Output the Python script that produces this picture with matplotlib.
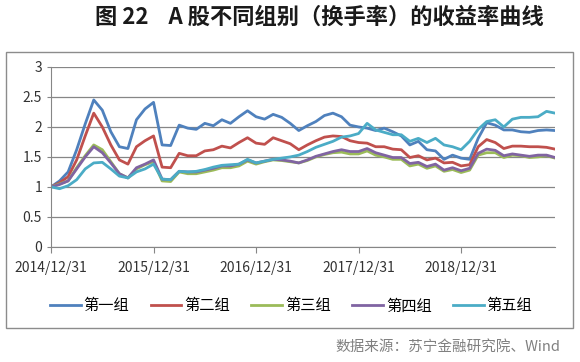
import numpy as np
import matplotlib
matplotlib.use('Agg')
import matplotlib.pyplot as plt
from matplotlib.patches import Rectangle

plt.rcParams['font.family'] = ['Noto Sans CJK SC', 'DejaVu Sans']

# 月度数据 2014/12 - 2019/11
tick_labels = ['2014/12/31', '2015/12/31', '2016/12/31', '2017/12/31', '2018/12/31']
tick_pos = [0, 12, 24, 36, 48]
names = ['第一组', '第二组', '第三组', '第四组', '第五组']

g1 = [1.00, 1.10, 1.25, 1.62, 2.05, 2.45, 2.28, 1.92, 1.67, 1.64,
      2.12, 2.30, 2.41, 1.70, 1.69, 2.03, 1.98, 1.96, 2.06, 2.02,
      2.12, 2.06, 2.17, 2.27, 2.17, 2.13, 2.21, 2.16, 2.06, 1.94,
      2.02, 2.09, 2.19, 2.23, 2.17, 2.03, 2.00, 1.98, 1.94, 1.98,
      1.92, 1.85, 1.70, 1.76, 1.62, 1.60, 1.46, 1.53, 1.48, 1.46,
      1.81, 2.07, 2.03, 1.95, 1.95, 1.92, 1.91, 1.94, 1.95, 1.94]
g2 = [1.00, 1.07, 1.17, 1.45, 1.85, 2.23, 2.00, 1.70, 1.45, 1.38,
      1.67, 1.77, 1.85, 1.33, 1.32, 1.56, 1.52, 1.52, 1.60, 1.62,
      1.68, 1.65, 1.74, 1.82, 1.73, 1.71, 1.82, 1.77, 1.72, 1.62,
      1.70, 1.77, 1.83, 1.85, 1.84, 1.77, 1.74, 1.73, 1.67, 1.67,
      1.63, 1.62, 1.49, 1.52, 1.45, 1.48, 1.40, 1.41, 1.35, 1.37,
      1.67, 1.79, 1.74, 1.64, 1.68, 1.68, 1.67, 1.67, 1.66, 1.63]
g3 = [1.00, 1.05, 1.10, 1.32, 1.52, 1.70, 1.62, 1.42, 1.22, 1.15,
      1.30, 1.37, 1.42, 1.10, 1.09, 1.25, 1.22, 1.22, 1.25, 1.28,
      1.32, 1.32, 1.35, 1.43, 1.38, 1.42, 1.45, 1.44, 1.42, 1.40,
      1.44, 1.50, 1.54, 1.57, 1.58, 1.55, 1.55, 1.60, 1.53, 1.50,
      1.46, 1.46, 1.35, 1.38, 1.31, 1.35, 1.26, 1.29, 1.24, 1.28,
      1.53, 1.57, 1.57, 1.49, 1.53, 1.52, 1.49, 1.50, 1.52, 1.48]
g4 = [1.00, 1.04, 1.10, 1.30, 1.50, 1.67, 1.57, 1.40, 1.22, 1.15,
      1.32, 1.38, 1.45, 1.13, 1.12, 1.26, 1.25, 1.25, 1.28, 1.31,
      1.35, 1.35, 1.38, 1.45, 1.40, 1.43, 1.46, 1.45, 1.43, 1.40,
      1.45, 1.51, 1.55, 1.59, 1.62, 1.59, 1.59, 1.64, 1.57, 1.53,
      1.49, 1.49, 1.39, 1.41, 1.34, 1.38, 1.28, 1.32, 1.27, 1.31,
      1.56, 1.63, 1.61, 1.52, 1.55, 1.53, 1.51, 1.53, 1.53, 1.49]
g5 = [1.00, 0.97, 1.02, 1.12, 1.30, 1.40, 1.41, 1.30, 1.18, 1.15,
      1.25, 1.30, 1.38, 1.13, 1.12, 1.26, 1.25, 1.26, 1.29, 1.33,
      1.36, 1.37, 1.38, 1.46, 1.40, 1.43, 1.46, 1.48, 1.50, 1.53,
      1.59, 1.66, 1.71, 1.76, 1.83, 1.85, 1.89, 2.06, 1.95, 1.91,
      1.87, 1.87, 1.76, 1.81, 1.74, 1.81, 1.70, 1.67, 1.62, 1.76,
      1.96, 2.09, 2.12, 2.00, 2.13, 2.16, 2.16, 2.17, 2.26, 2.23]

colors = ['#4F81BD', '#C0504D', '#9BBB59', '#8064A2', '#4BACC6']
series = [g1, g2, g3, g4, g5]

fig = plt.figure(figsize=(5.8, 3.62), dpi=100)
ax = fig.add_axes([0.088, 0.318, 0.869, 0.497])

x = np.arange(len(g1))
for s, c, n in zip(series, colors, names):
    ax.plot(x, s, color=c, lw=2, label=n)

ax.set_xlim(0, len(g1) - 1)
ax.set_ylim(0, 3)
ax.set_yticks([0, 0.5, 1, 1.5, 2, 2.5, 3])
ax.set_yticklabels(['0', '0.5', '1', '1.5', '2', '2.5', '3'])
ax.set_xticks(tick_pos)
ax.set_xticklabels(tick_labels)
ax.tick_params(axis='both', labelsize=10, colors='#333333')
ax.tick_params(axis='x', length=4, color='#868686', pad=6)
ax.tick_params(axis='y', length=3, color='#868686')
ax.grid(axis='y', color='#868686', lw=0.9)
ax.set_axisbelow(True)
for sp in ['top', 'right']:
    ax.spines[sp].set_visible(False)
for sp in ['left', 'bottom']:
    ax.spines[sp].set_color('#868686')

fig.legend(loc='center', bbox_to_anchor=(0.502, 0.155), ncol=5, frameon=False,
           fontsize=11, handlelength=2.0, handletextpad=0.2, columnspacing=1.4)

fig.patches.append(Rectangle((6 / 580, 1 - 328 / 362), 567 / 580, 276 / 362,
                             transform=fig.transFigure, fill=False,
                             edgecolor='#8c8c8c', lw=1))

fig.text(0.55, 0.952, '图 22    A 股不同组别（换手率）的收益率曲线', ha='center', va='center',
         fontsize=16, fontweight='bold', color='#1a1a1a')
fig.text(0.967, 0.043, '数据来源：苏宁金融研究院、Wind', ha='right', va='center',
         fontsize=10.5, style='italic', color='#808080')

fig.savefig('out.png', dpi=100)
